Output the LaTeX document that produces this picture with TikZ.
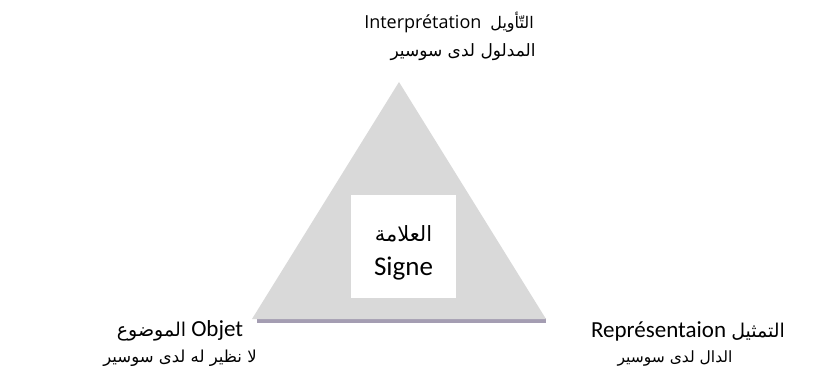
\documentclass[tikz,border=0pt]{standalone}
\usepackage{fontspec}
\setmainfont{Carlito}
\newfontfamily\arabicfont[Script=Arabic]{DejaVu Sans}
\newfontfamily\headfont{Open Sans}
\TeXXeTstate=1
\definecolor{trifill}{HTML}{D9D9D9}
\definecolor{trishadow}{HTML}{A49DB2}
\newcommand{\ar}[1]{{\arabicfont\beginR #1\endR}}
\newcommand{\fs}[1]{\fontsize{#1}{#1}\selectfont}
\begin{document}
\begin{tikzpicture}[x=1pt,y=-1pt,
  txt/.style={inner sep=0pt}]
\useasboundingbox (0,0) rectangle (827,385);
% triangle with its shadow line along the base
\fill[trishadow] (257,318) rectangle (546,323);
\fill[trifill] (399,82) -- (546,319) -- (252,319) -- cycle;
\node[fill=white, inner sep=0pt, minimum width=105pt, minimum height=103pt] (sign) at (403.5,246.5) {};
\node[txt, font=\fs{21}] (signar) at (403.5,234) {\ar{العلامة}};
\node[txt, font=\fs{27}] (signfr) at (403.5,269) {Signe};
% interpretant (top)
\node[txt, font=\fs{18}\headfont] (top1) at (449,22) {Interprétation\hspace{9pt}{\fs{16}\ar{التّأويل}}};
\node[txt, font=\fs{17}] (top2) at (463,52) {\ar{المدلول لدى سوسير}};
% object (left)
\node[txt, font=\fs{23}] (left1) at (180,331) {{\fs{19}\ar{الموضوع}} Objet};
\node[txt, font=\fs{16.5}] (left2) at (180,358) {\ar{لا نظير له لدى سوسير}};
% representamen (right)
\node[txt, font=\fs{23}] (right1) at (688,331) {Représentaion {\fs{19}\ar{التمثيل}}};
\node[txt, font=\fs{15.5}] (right2) at (675,359) {\ar{الدال لدى سوسير}};
\end{tikzpicture}
\end{document}
